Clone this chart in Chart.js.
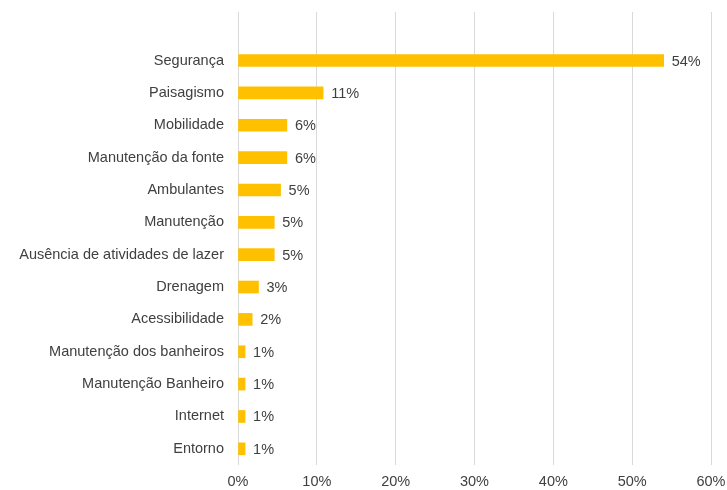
<!DOCTYPE html>
<html>
<head>
<meta charset="utf-8">
<script src="https://cdn.jsdelivr.net/npm/chart.js@4"></script>
<style>
    body { margin: 0; background: #fff; }
    #box { width: 727px; height: 490px; }
</style>
</head>
<body>
<div id="box"><canvas id="mainChart" width="727" height="490"></canvas></div>
<script>
// first category is blank on purpose: the source chart leaves an empty row on top
const categories = ["", "Segurança", "Paisagismo", "Mobilidade", "Manutenção da fonte", "Ambulantes",
    "Manutenção", "Ausência de atividades de lazer", "Drenagem", "Acessibilidade",
    "Manutenção dos banheiros", "Manutenção Banheiro", "Internet", "Entorno"];
const percentValues = [null, 54, 10.8, 6.2, 6.2, 5.4, 4.6, 4.6, 2.6, 1.8, 0.9, 0.9, 0.9, 0.9];
const xTicks = [0, 10, 20, 30, 40, 50, 60];

const textColor = "#404040";
const fontFamily = "'Liberation Sans', Arial, sans-serif";
const fontSize = 14.5;

// draws the "54%" style labels right after each bar
const barValueLabels = {
    id: "barValueLabels",
    afterDatasetsDraw(chart) {
        const ctx = chart.ctx;
        const meta = chart.getDatasetMeta(0);
        ctx.save();
        ctx.font = fontSize + "px " + fontFamily;
        ctx.fillStyle = textColor;
        ctx.textAlign = "left";
        ctx.textBaseline = "middle";
        meta.data.forEach((bar, i) => {
            const v = percentValues[i];
            if (v === null) return;
            ctx.fillText(Math.round(v) + "%", bar.x + 8, bar.y + 1);
        });
        ctx.restore();
    },
};

new Chart(document.getElementById("mainChart"), {
    type: "bar",
    data: {
        labels: categories,
        datasets: [{
            data: percentValues,
            backgroundColor: "#FFC000",
            barThickness: 12,
        }],
    },
    options: {
        indexAxis: "y",
        responsive: false,
        animation: false,
        layout: { padding: { top: 12, right: 16, bottom: 0, left: 0 } },
        plugins: {
            legend: { display: false },
            tooltip: { enabled: false },
        },
        scales: {
            x: {
                min: 0,
                max: 60,
                afterBuildTicks: (axis) => {
                    axis.ticks = xTicks.map((v) => ({ value: v }));
                },
                afterFit: (axis) => {
                    axis.height = 25;
                    axis.paddingLeft = 0;
                    axis.paddingRight = 0;
                },
                grid: { color: "#d9d9d9", lineWidth: 1, drawTicks: false },
                border: { display: false },
                ticks: {
                    padding: 8,
                    color: textColor,
                    font: { family: fontFamily, size: fontSize },
                    callback: (v) => v + "%",
                },
            },
            y: {
                grid: { display: false, drawTicks: false },
                border: { display: false },
                afterFit: (axis) => {
                    axis.width = 238;
                    axis.paddingTop = 0;
                    axis.paddingBottom = 0;
                },
                ticks: {
                    padding: 14,
                    color: textColor,
                    font: { family: fontFamily, size: fontSize },
                    autoSkip: false,
                },
            },
        },
    },
    plugins: [barValueLabels],
});
</script>
</body>
</html>
